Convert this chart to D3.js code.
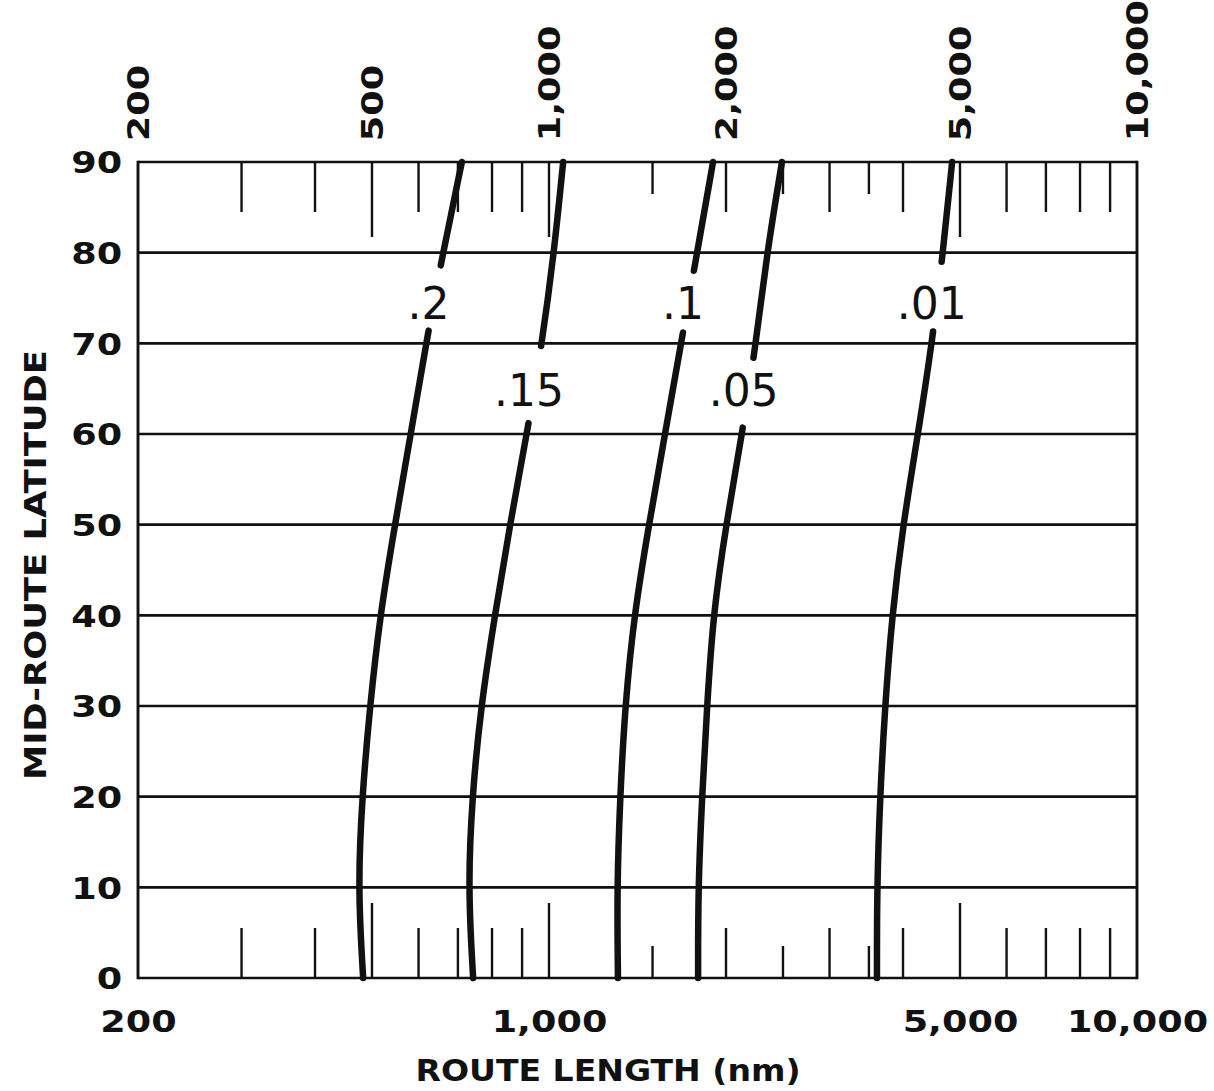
<!DOCTYPE html>
<html>
<head>
<meta charset="utf-8">
<script src="https://cdn.jsdelivr.net/npm/d3@7"></script>
<style>
  html, body { margin: 0; padding: 0; background: #fff; }
  svg { display: block; }
</style>
</head>
<body>
<svg id="chart" width="1214" height="1091"></svg>
<script>
// ---- data ----
const latitudes = [0, 10, 20, 30, 40, 50, 60, 70, 80, 90];
const curveLabels = [".2", ".15", ".1", ".05", ".01"];
const routeLen_02  = [483, 473, 481, 496, 516, 547, 582, 618, 660, 711];
const routeLen_015 = [743, 728, 740, 766, 809, 858, 917, 973, 1020, 1057];
const routeLen_01  = [1310, 1305, 1321, 1347, 1395, 1479, 1575, 1677, 1786, 1901];
const routeLen_005 = [1793, 1793, 1821, 1857, 1901, 2000, 2130, 2249, 2348, 2490];
const routeLen_001 = [3612, 3612, 3656, 3728, 3832, 4000, 4242, 4480, 4678, 4848];
const labelGapLow  = [71.4, 61.2, 71.2, 60.7, 71.3];
const labelGapHigh = [78.6, 69.7, 78.0, 68.4, 79.0];
const labelLat     = [74.4, 64.8, 74.4, 64.8, 74.4];
const topTickLabels = [200, 500, 1000, 2000, 5000, 10000];
const bottomTickLabels = [200, 1000, 5000, 10000];
const latTicks = [0, 10, 20, 30, 40, 50, 60, 70, 80, 90];
const majorTicks = [500, 1000, 5000];
const midTicks = [300, 400, 600, 700, 800, 900, 2000, 3000, 4000, 6000, 7000, 8000, 9000];
const halfTicks = [1500, 2500, 3500];

const series = [routeLen_02, routeLen_015, routeLen_01, routeLen_005, routeLen_001];

// ---- layout ----
const L = 138, R = 1137, T = 162, B = 978;
const INK = "#111";
const svg = d3.select("#chart");

const x = d3.scaleLog().domain([200, 10000]).range([L, R]);
const y = d3.scaleLinear().domain([0, 90]).range([B, T]);

// grid lines
svg.append("g").selectAll("line").data(latTicks).join("line")
  .attr("x1", L).attr("x2", R)
  .attr("y1", d => y(d)).attr("y2", d => y(d))
  .attr("stroke", INK).attr("stroke-width", 2.7);

// side borders
svg.append("g").selectAll("line").data([200, 10000]).join("line")
  .attr("x1", d => x(d)).attr("x2", d => x(d))
  .attr("y1", T - 1.3).attr("y2", B + 1.3)
  .attr("stroke", INK).attr("stroke-width", 2.9);

// ticks (top hanging down, bottom rising up)
const tickSets = [
  { vals: majorTicks, len: 75 },
  { vals: midTicks, len: 50 },
  { vals: halfTicks, len: 32 }
];
const tg = svg.append("g").attr("stroke", INK).attr("stroke-width", 2.4);
tickSets.forEach(s => {
  tg.append("g").selectAll("line").data(s.vals).join("line")
    .attr("x1", d => x(d)).attr("x2", d => x(d))
    .attr("y1", T).attr("y2", T + s.len);
  tg.append("g").selectAll("line").data(s.vals).join("line")
    .attr("x1", d => x(d)).attr("x2", d => x(d))
    .attr("y1", B).attr("y2", B - s.len);
});

// ---- axes labels ----
const FONT = "'DejaVu Sans', sans-serif";
const SX = 1.22;

const yAxis = svg.append("g").attr("transform", `translate(${L},0)`)
  .call(d3.axisLeft(y).tickValues(latTicks).tickSize(0).tickPadding(13).tickFormat(d3.format("d")));
yAxis.select(".domain").remove();
yAxis.selectAll("text")
  .attr("font-family", FONT).attr("font-weight", "bold").attr("font-size", 30)
  .attr("fill", INK).attr("dy", "0.36em")
  .attr("transform", `scale(${SX},1)`);

const bAxis = svg.append("g").attr("transform", `translate(0,${B})`)
  .call(d3.axisBottom(x).tickValues(bottomTickLabels).tickSize(0).tickPadding(33).tickFormat(d3.format(",")));
bAxis.select(".domain").remove();
bAxis.selectAll("text")
  .attr("font-family", FONT).attr("font-weight", "bold").attr("font-size", 30)
  .attr("fill", INK).attr("dy", "0.71em")
  .attr("transform", `scale(${SX},1)`);

const tAxis = svg.append("g").attr("transform", `translate(0,${T})`)
  .call(d3.axisTop(x).tickValues(topTickLabels).tickSize(0).tickFormat(d3.format(",")));
tAxis.select(".domain").remove();
tAxis.selectAll("text")
  .attr("font-family", FONT).attr("font-weight", "bold").attr("font-size", 30)
  .attr("fill", INK)
  .attr("text-anchor", "start")
  .attr("x", 17).attr("y", 0).attr("dy", "0.36em")
  .attr("transform", `rotate(-90) scale(${SX},1)`);

// axis titles
svg.append("text")
  .attr("transform", "translate(46,565) rotate(-90)")
  .attr("text-anchor", "middle")
  .attr("font-family", FONT).attr("font-weight", "bold").attr("font-size", 30)
  .attr("fill", INK)
  .attr("textLength", 430).attr("lengthAdjust", "spacingAndGlyphs")
  .text("MID-ROUTE LATITUDE");

svg.append("text")
  .attr("x", 608).attr("y", 1081)
  .attr("text-anchor", "middle")
  .attr("font-family", FONT).attr("font-weight", "bold").attr("font-size", 30)
  .attr("fill", INK)
  .attr("textLength", 385).attr("lengthAdjust", "spacingAndGlyphs")
  .text("ROUTE LENGTH (nm)");

// ---- curves ----
const line = d3.line()
  .x(d => x(d.v)).y(d => y(d.lat))
  .curve(d3.curveBasis);

function lengthAtY(node, yTarget) {
  let lo = 0, hi = node.getTotalLength();
  for (let i = 0; i < 40; i++) {
    const mid = (lo + hi) / 2;
    const p = node.getPointAtLength(mid);
    if (p.y > yTarget) lo = mid; else hi = mid;
  }
  return (lo + hi) / 2;
}

const cg = svg.append("g");
series.forEach((vals, i) => {
  const pts = latitudes.map((lat, j) => ({ lat, v: vals[j] }));
  const path = cg.append("path")
    .attr("d", line(pts))
    .attr("fill", "none")
    .attr("stroke", INK)
    .attr("stroke-width", 6.5)
    .attr("stroke-linecap", "round");
  const node = path.node();
  const total = node.getTotalLength();
  const l1 = lengthAtY(node, y(labelGapLow[i]));
  const l2 = lengthAtY(node, y(labelGapHigh[i]));
  path.attr("stroke-dasharray", `${l1},${l2 - l1},${total}`);

  const lp = node.getPointAtLength(lengthAtY(node, y(labelLat[i])));
  cg.append("text")
    .attr("x", lp.x - 5).attr("y", lp.y)
    .attr("dy", "0.36em")
    .attr("text-anchor", "middle")
    .attr("font-family", FONT).attr("font-size", 44)
    .attr("fill", INK)
    .text(curveLabels[i]);
});
</script>
</body>
</html>
